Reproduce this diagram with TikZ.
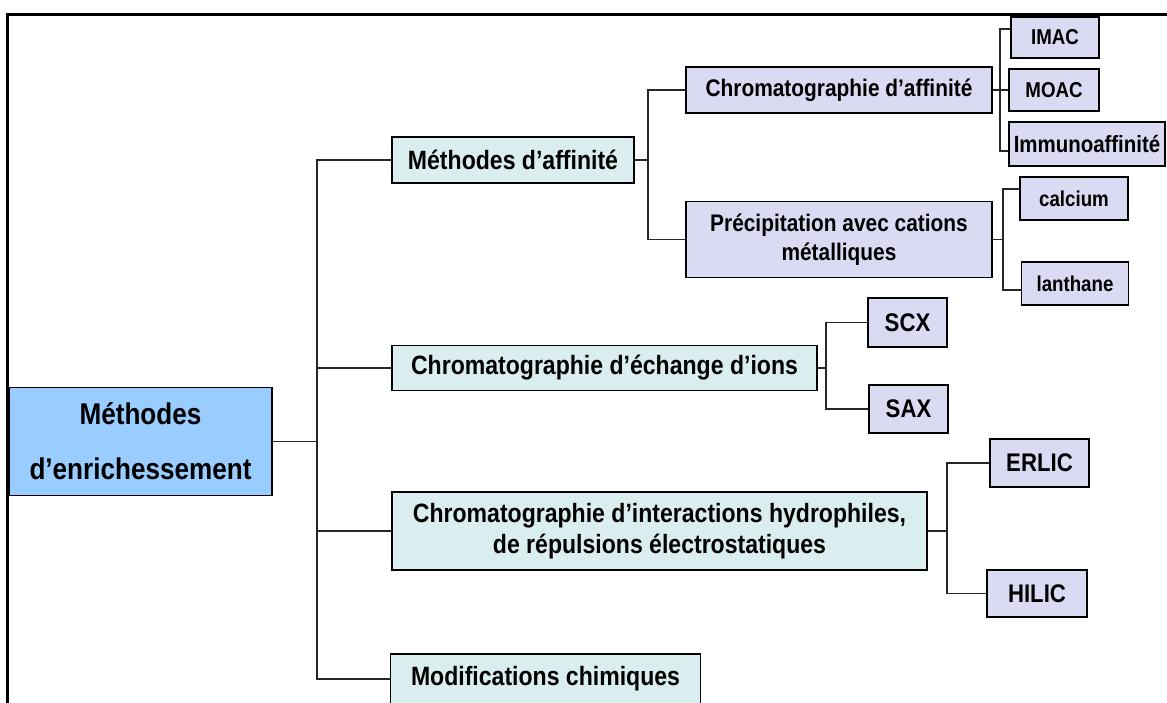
\documentclass[tikz,border=0pt]{standalone}
\usepackage{fontspec}
\setmainfont{Liberation Sans}[FakeStretch=0.87]
\definecolor{rootblue}{HTML}{99CCFF}
\definecolor{lcyan}{HTML}{DAEEF0}
\definecolor{lav}{HTML}{DADAF3}
\begin{document}
\begin{tikzpicture}[x=1pt,y=-1pt,
  box/.style={draw=black,line width=1.8pt,inner sep=0pt,align=center,font=\bfseries},
  rootbox/.style={box,fill=rootblue,font=\fontsize{30}{55}\selectfont\bfseries},
  lvla/.style={box,fill=lcyan,font=\fontsize{26.5}{31}\selectfont\bfseries},
  lvlb/.style={box,fill=lav,font=\fontsize{24}{29}\selectfont\bfseries},
  lvlc/.style={box,fill=lav,font=\fontsize{21.5}{26}\selectfont\bfseries},
  lvld/.style={box,fill=lav,font=\fontsize{25.5}{30}\selectfont\bfseries},
  link/.style={draw=black!85,line width=1.7pt}]
\useasboundingbox (0,0) rectangle (1167,702);
\clip (0,0) rectangle (1167,702);
\draw[line width=3pt] (7,710) -- (7,14) -- (1170,14);

\node[rootbox,minimum width=263,minimum height=108] (root) at (140.5,441.5) {Méthodes\\d’enrichessement};

\node[lvla,minimum width=242,minimum height=46] (affin) at (513,160) {Méthodes d’affinité};
\node[lvla,minimum width=425,minimum height=45] (echange) at (604.5,368) {Chromatographie d’échange d’ions};
\node[lvla,minimum width=535,minimum height=78] (inter) at (659.5,531) {Chromatographie d’interactions hydrophiles,\\de répulsions électrostatiques};
\node[lvla,minimum width=310,minimum height=50] (modif) at (545.5,679) {Modifications chimiques};

\node[lvlb,minimum width=306,minimum height=46] (chaff) at (839,90) {Chromatographie d’affinité};
\node[lvlb,minimum width=306,minimum height=76] (precip) at (839,239.5) {Précipitation avec cations\\métalliques};

\node[lvlc,minimum width=88,minimum height=41] (imac) at (1055,37.5) {IMAC};
\node[lvlc,minimum width=90,minimum height=42] (moac) at (1054,90) {MOAC};
\node[lvlc,minimum width=156,minimum height=44,font=\fontsize{23.5}{28}\selectfont\bfseries] (immuno) at (1087,144) {Immunoaffinité};
\node[lvlc,minimum width=108,minimum height=43] (calcium) at (1074,198.5) {calcium};
\node[lvlc,minimum width=107,minimum height=43] (lanthane) at (1075,283.5) {lanthane};

\node[lvld,minimum width=79,minimum height=49] (scx) at (907.5,322.5) {SCX};
\node[lvld,minimum width=79,minimum height=48] (sax) at (908.5,409) {SAX};
\node[lvld,minimum width=99,minimum height=48] (erlic) at (1039.5,463) {ERLIC};
\node[lvld,minimum width=100,minimum height=47] (hilic) at (1037,593.5) {HILIC};

% trunk
\coordinate (t0) at (317,441.5);
\draw[link] (root.east) -- (t0);
\draw[link] (affin.west) -| (t0) |- (modif.west);
\draw[link] (echange.west) -- (echange.west -| t0);
\draw[link] (inter.west) -- (inter.west -| t0);

% affinity branch
\coordinate (t1) at (648,160);
\draw[link] (affin.east) -- (t1);
\draw[link] (chaff.west) -| (t1) |- (precip.west);

\coordinate (t2) at (1000,90);
\draw[link] (chaff.east) -- (t2);
\draw[link] ([yshift=8.5pt]imac.west) -| (t2) |- ([yshift=-7pt]immuno.west);
\draw[link] (moac.west) -- (t2);

\coordinate (t3) at (1003,239.5);
\draw[link] (precip.east) -- (t3);
\draw[link] ([yshift=9.5pt]calcium.west) -| (t3) |- ([yshift=-6.5pt]lanthane.west);

% ion exchange
\coordinate (t4) at (826,368);
\draw[link] (echange.east) -- (t4);
\draw[link] (scx.west) -| (t4) |- (sax.west);

% interactions
\coordinate (t5) at (947,531);
\draw[link] (inter.east) -- (t5);
\draw[link] (erlic.west) -| (t5) |- (hilic.west);
\end{tikzpicture}
\end{document}
